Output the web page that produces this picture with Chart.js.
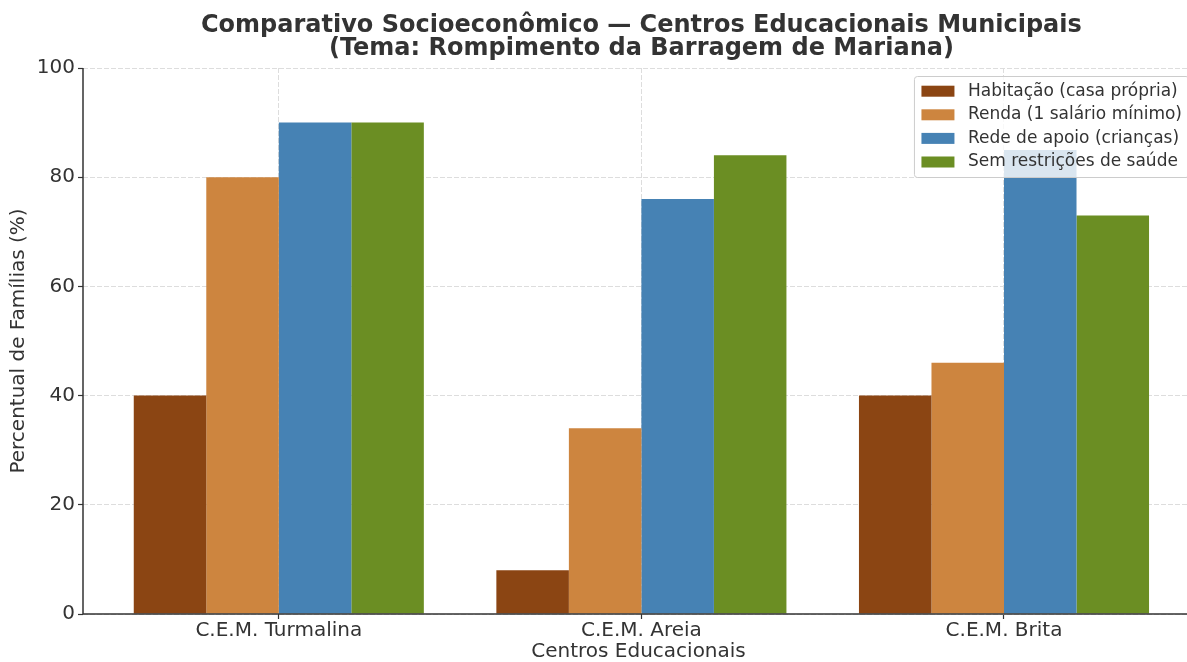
<!DOCTYPE html>
<html lang="pt-BR">
<head>
<meta charset="utf-8">
<title>Comparativo Socioeconômico</title>
<script src="https://cdn.jsdelivr.net/npm/chart.js@4.4.1/dist/chart.umd.min.js"></script>
<style>
    html, body { margin: 0; padding: 0; background: #fff; overflow: hidden; }
    #wrap { position: relative; width: 1194px; height: 662px; }
</style>
</head>
<body>
<div id="wrap"><canvas id="myChart"></canvas></div>
<script>
"use strict";

// dados (% de famílias)
const centros = ["C.E.M. Turmalina", "C.E.M. Areia", "C.E.M. Brita"];
const habitacao = [40, 8, 40];
const renda = [80, 34, 46];
const redeApoio = [90, 76, 85];
const semRestricoes = [90, 84, 73];
const nomesSeries = ["Habitação (casa própria)", "Renda (1 salário mínimo)", "Rede de apoio (crianças)", "Sem restrições de saúde"];
const coresSeries = ["#8B4513", "#CD853F", "#4682B4", "#6B8E23"];
const yTicks = [0, 20, 40, 60, 80, 100];
const tituloLinhas = ["Comparativo Socioeconômico — Centros Educacionais Municipais", "(Tema: Rompimento da Barragem de Mariana)"];

const FONT = "'DejaVu Sans', 'Noto Sans', sans-serif";
const TEXT = "#333333";

const valores = [habitacao, renda, redeApoio, semRestricoes];

// título em duas linhas, centrado no eixo
const tituloPlugin = {
    id: "tituloPlugin",
    afterDraw(chart) {
        const ctx = chart.ctx;
        const cx = chart.scales.x.getPixelForValue(1);
        ctx.save();
        ctx.font = "bold 24px " + FONT;
        ctx.fillStyle = TEXT;
        ctx.textAlign = "center";
        ctx.textBaseline = "alphabetic";
        ctx.fillText(tituloLinhas[0], cx, 32);
        ctx.fillText(tituloLinhas[1], cx, 55);
        ctx.restore();
    }
};

// eixos (esquerda e baixo) por cima das barras
const eixosPlugin = {
    id: "eixosPlugin",
    afterDatasetsDraw(chart) {
        const ctx = chart.ctx;
        const a = chart.chartArea;
        ctx.save();
        ctx.strokeStyle = "#333333";
        ctx.lineWidth = 1.5;
        ctx.beginPath();
        ctx.moveTo(a.left, a.top);
        ctx.lineTo(a.left, a.bottom);
        ctx.lineTo(a.right, a.bottom);
        ctx.stroke();
        ctx.restore();
    }
};

// legenda dentro do gráfico, canto superior direito
const legendaPlugin = {
    id: "legendaPlugin",
    afterDraw(chart) {
        const ctx = chart.ctx;
        const a = chart.chartArea;
        const fs = 17;
        const pad = 7, handleLen = 33, handleH = 11, handlePad = 13.5, passo = 23.6;
        ctx.save();
        ctx.font = fs + "px " + FONT;
        let maxW = 0;
        chart.data.datasets.forEach(ds => { maxW = Math.max(maxW, ctx.measureText(ds.label).width); });
        const w = pad * 2 + handleLen + handlePad + maxW;
        const h = 101;
        const right = a.right - 5;
        const left = right - w;
        const top = a.top + 8.5;

        ctx.beginPath();
        ctx.roundRect(left, top, w, h, 3);
        ctx.fillStyle = "rgba(255,255,255,0.8)";
        ctx.fill();
        ctx.strokeStyle = "#cccccc";
        ctx.lineWidth = 1;
        ctx.stroke();

        ctx.textBaseline = "middle";
        ctx.textAlign = "left";
        chart.data.datasets.forEach((ds, i) => {
            const cy = top + pad + 7.7 + i * passo;
            ctx.fillStyle = ds.backgroundColor;
            ctx.fillRect(left + pad, cy - handleH / 2, handleLen, handleH);
            ctx.fillStyle = TEXT;
            ctx.fillText(ds.label, left + pad + handleLen + handlePad, cy);
        });
        ctx.restore();
    }
};

const ctx = document.getElementById("myChart").getContext("2d");
const myChart = new Chart(ctx, {
    type: "bar",
    data: {
        datasets: nomesSeries.map((nome, s) => ({
            label: nome,
            data: valores[s].map((v, i) => ({ x: i, y: v })),
            backgroundColor: coresSeries[s],
            borderWidth: 0,
            categoryPercentage: 0.8,
            barPercentage: 1.0
        }))
    },
    options: {
        responsive: true,
        maintainAspectRatio: false,
        animation: false,
        layout: { padding: { top: 68, left: 0, right: 0, bottom: 0 } },
        plugins: {
            legend: { display: false },
            title: { display: false },
            tooltip: { enabled: false }
        },
        scales: {
            x: {
                type: "linear",
                offset: false,
                min: -0.54,
                max: 2.524,
                afterBuildTicks: (scale) => { scale.ticks = centros.map((c, i) => ({ value: i })); },
                afterFit: (scale) => { scale.height = 48; },
                ticks: {
                    callback: (v) => centros[v],
                    font: { family: FONT, size: 20 },
                    color: TEXT,
                    padding: 0,
                    maxRotation: 0,
                    autoSkip: false
                },
                grid: {
                    offset: false,
                    color: "#dddddd",
                    lineWidth: 1,
                    tickLength: 5,
                    tickColor: "#333333",
                    tickWidth: 1.2,
                    tickBorderDash: []
                },
                border: { display: false, dash: [5, 2] },
                title: {
                    display: true,
                    text: "Centros Educacionais",
                    font: { family: FONT, size: 20, lineHeight: 1 },
                    color: TEXT,
                    padding: { top: 0, bottom: 0 }
                }
            },
            y: {
                min: 0,
                max: 100,
                afterBuildTicks: (scale) => { scale.ticks = yTicks.map(v => ({ value: v })); },
                afterFit: (scale) => { scale.width = 83; },
                ticks: {
                    font: { family: FONT, size: 20 },
                    color: TEXT,
                    padding: 3
                },
                grid: {
                    color: "#dddddd",
                    lineWidth: 1,
                    tickLength: 5,
                    tickColor: "#333333",
                    tickWidth: 1.2,
                    tickBorderDash: []
                },
                border: { display: false, dash: [5, 2] },
                title: {
                    display: true,
                    text: "Percentual de Famílias (%)",
                    font: { family: FONT, size: 20, lineHeight: 1.2 },
                    color: TEXT,
                    padding: { top: 7, bottom: 0 }
                }
            }
        }
    },
    plugins: [tituloPlugin, eixosPlugin, legendaPlugin]
});
</script>
</body>
</html>
